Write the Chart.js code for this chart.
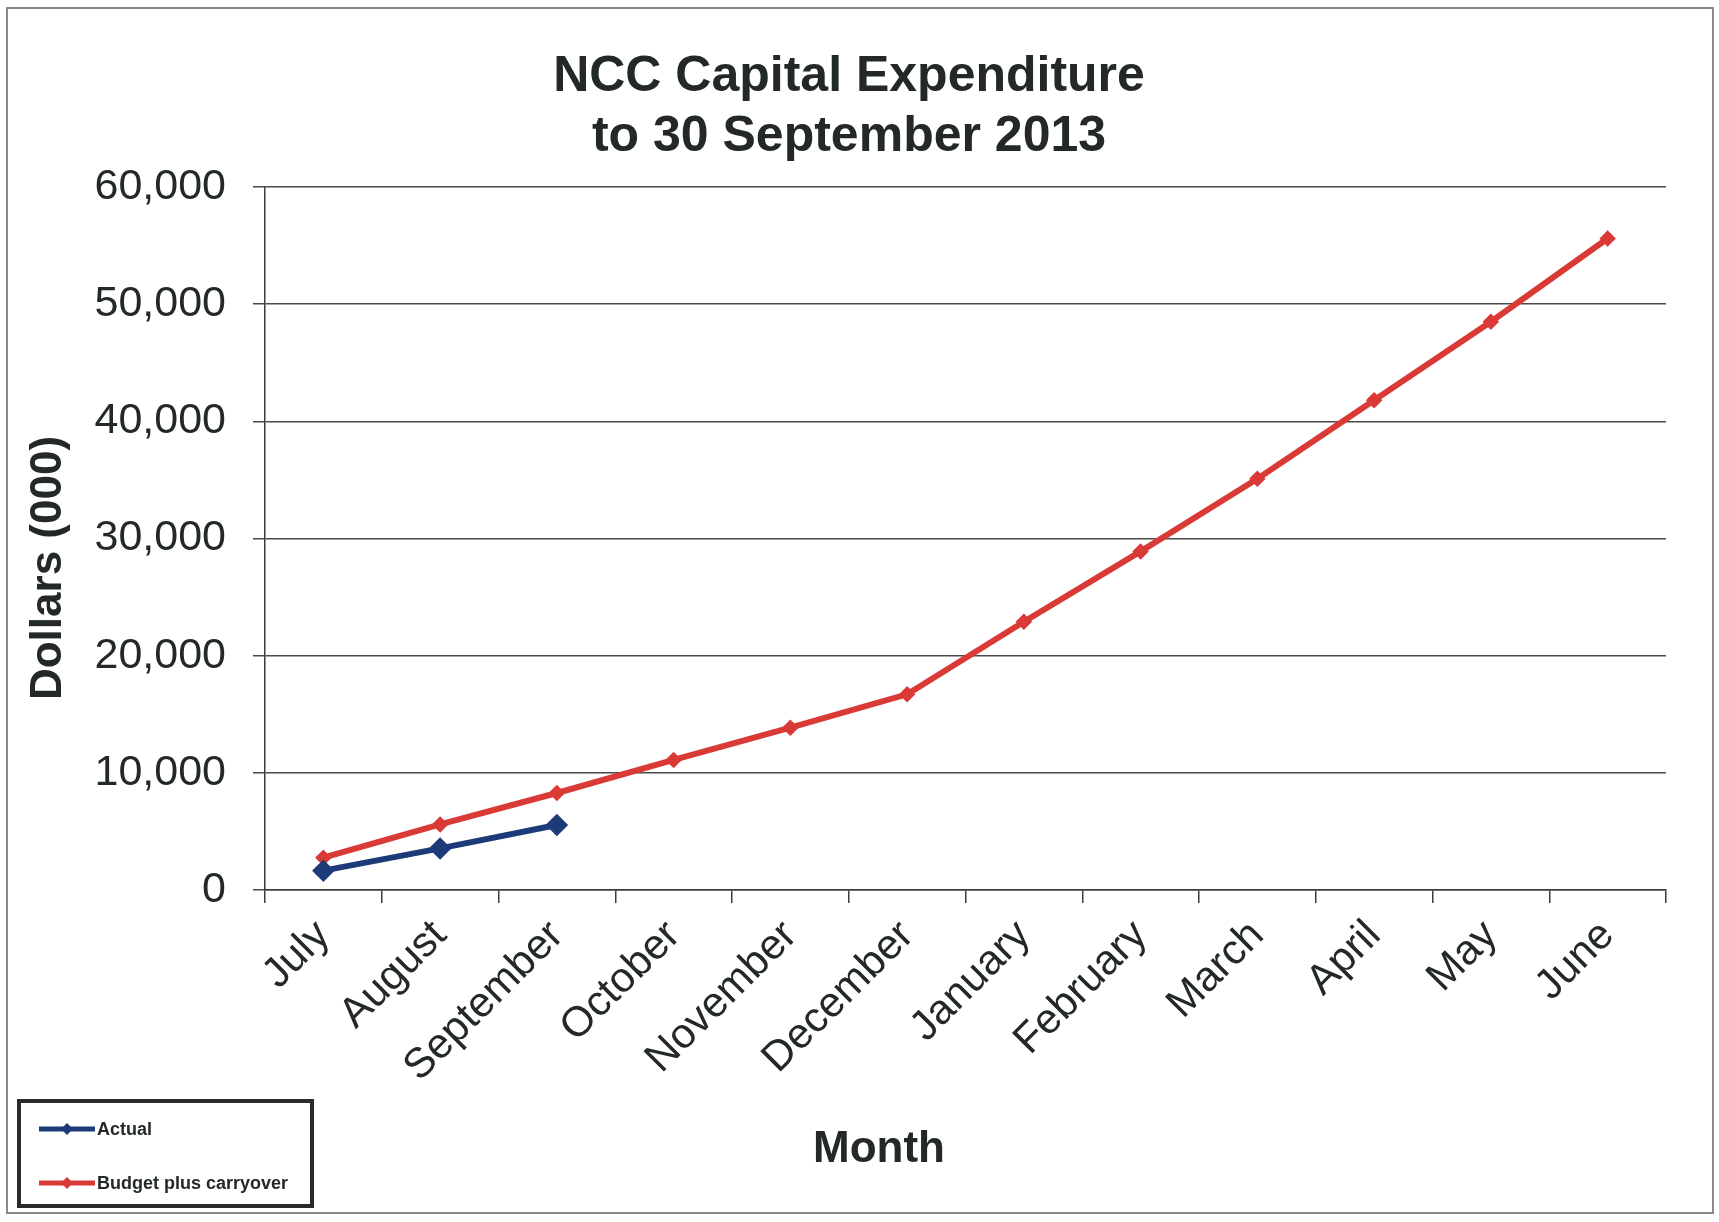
<!DOCTYPE html>
<html>
<head>
<meta charset="utf-8">
<title>NCC Capital Expenditure</title>
<script src="https://cdn.jsdelivr.net/npm/chart.js@4.4.1/dist/chart.umd.min.js"></script>
<style>
  html, body { margin: 0; padding: 0; background: #fff; }
  canvas { display: block; }
</style>
</head>
<body>
<canvas id="chart" width="1719" height="1222"></canvas>
<script>
const months = ["July", "August", "September", "October", "November", "December",
  "January", "February", "March", "April", "May", "June"]
const actual = [1650, 3550, 5550]
const budget = [2760, 5600, 8280, 11100, 13850, 16700, 22900, 28900, 35100, 41800, 48500, 55600]
const yTicks = [0, 10000, 20000, 30000, 40000, 50000, 60000]

const INK = "#232828"
const FONT = "'Liberation Sans', Arial, Helvetica, sans-serif"
const BLUE = "#1d3b79"
const RED = "#da3a36"

// frame, axis titles and the boxed legend in the lower left
const decorations = {
  id: "decorations",
  afterDraw(chart) {
    const { ctx } = chart
    ctx.save()

    ctx.strokeStyle = "#8a8a8a"
    ctx.lineWidth = 2
    ctx.strokeRect(7, 8, 1706, 1205)

    ctx.fillStyle = INK
    ctx.font = `bold 44px ${FONT}`
    ctx.textAlign = "center"
    ctx.textBaseline = "middle"
    ctx.fillText("Month", 879, 1150)

    ctx.translate(49, 568)
    ctx.rotate(-Math.PI / 2)
    ctx.fillText("Dollars (000)", 0, 0)
    ctx.setTransform(1, 0, 0, 1, 0, 0)

    ctx.lineWidth = 4
    ctx.strokeStyle = "#2a2a2a"
    ctx.strokeRect(19, 1101, 293, 105)

    ctx.font = `bold 18px ${FONT}`
    ctx.textAlign = "left"
    chart.data.datasets.forEach((ds, i) => {
      const y = 1129 + i * 54
      ctx.strokeStyle = ds.borderColor
      ctx.lineWidth = 5
      ctx.beginPath()
      ctx.moveTo(39, y)
      ctx.lineTo(95, y)
      ctx.stroke()
      ctx.fillStyle = ds.borderColor
      ctx.beginPath()
      ctx.moveTo(67, y - 6)
      ctx.lineTo(73, y)
      ctx.lineTo(67, y + 6)
      ctx.lineTo(61, y)
      ctx.closePath()
      ctx.fill()
      ctx.fillStyle = INK
      ctx.fillText(ds.label, 97, y + 1)
    })
    ctx.restore()
  }
}

new Chart(document.getElementById("chart"), {
  type: "line",
  data: {
    labels: months,
    datasets: [
      {
        label: "Actual",
        data: actual,
        borderColor: BLUE,
        backgroundColor: BLUE,
        borderWidth: 6,
        pointStyle: "rectRot",
        pointRadius: 7,
        tension: 0
      },
      {
        label: "Budget plus carryover",
        data: budget,
        borderColor: RED,
        backgroundColor: RED,
        borderWidth: 6,
        pointStyle: "rectRot",
        pointRadius: 4,
        tension: 0
      }
    ]
  },
  options: {
    responsive: false,
    animation: false,
    layout: { padding: { top: 47, left: 32, right: 53, bottom: 0 } },
    plugins: {
      legend: { display: false },
      tooltip: { enabled: false },
      title: {
        display: true,
        text: ["NCC Capital Expenditure", "to 30 September 2013"],
        color: INK,
        font: { family: FONT, size: 50, weight: "bold", lineHeight: 1.2 },
        padding: { top: 0, bottom: 20 }
      }
    },
    scales: {
      x: {
        type: "category",
        offset: true,
        grid: { offset: true, drawOnChartArea: false, drawTicks: true, tickLength: 13, color: "#3c3c3c", lineWidth: 1.5 },
        border: { color: "#3c3c3c", width: 1.5 },
        ticks: {
          autoSkip: false,
          minRotation: 45,
          maxRotation: 45,
          padding: 8,
          color: INK,
          font: { family: FONT, size: 42 }
        },
        afterFit: (scale) => { scale.height = 332 }
      },
      y: {
        min: 0,
        max: 60000,
        afterBuildTicks: (scale) => { scale.ticks = yTicks.map(v => ({ value: v })) },
        grid: { color: "#4a4a4a", lineWidth: 1.5, tickLength: 12 },
        border: { color: "#3c3c3c", width: 1.5 },
        ticks: {
          padding: 27,
          color: INK,
          font: { family: FONT, size: 43 },
          callback: (v) => Number(v).toLocaleString("en-US")
        },
        afterFit: (scale) => { scale.width = 233 }
      }
    }
  },
  plugins: [decorations]
})
</script>
</body>
</html>
